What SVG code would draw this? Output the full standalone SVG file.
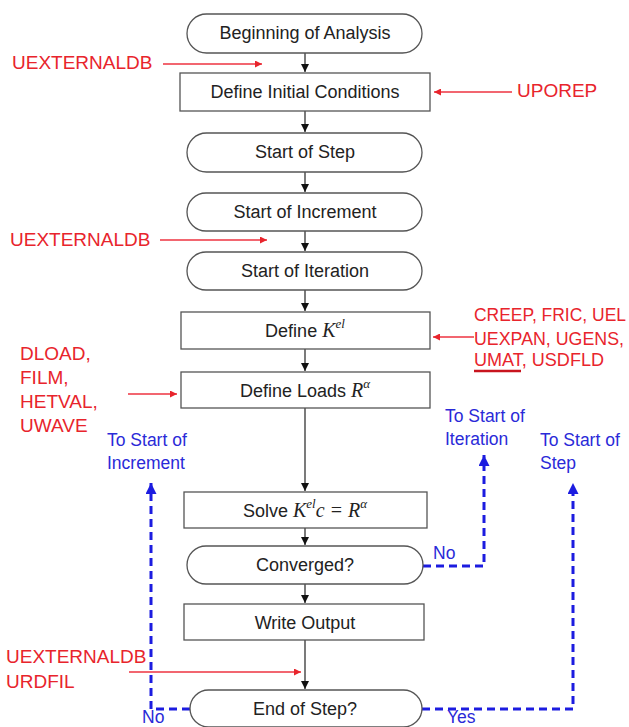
<svg xmlns="http://www.w3.org/2000/svg" width="629" height="727" viewBox="0 0 629 727">
<style>
.box{fill:#fff;stroke:#555;stroke-width:1.3}
.t{font-family:"Liberation Sans",Arial,sans-serif;font-size:18px;fill:#222;text-anchor:middle}
.m{font-family:"Liberation Serif","Times New Roman",serif;font-style:italic}
.r{font-family:"Liberation Sans",Arial,sans-serif;font-size:19px;fill:#e8242c}
.rs{font-size:17.5px}
.b{font-family:"Liberation Sans",Arial,sans-serif;font-size:17.5px;fill:#2a2ad8}
.c{stroke:#222;stroke-width:1.2;fill:none}
.rc{stroke:#ee3340;stroke-width:1.5;fill:none}
.bd{stroke:#1c1ce0;stroke-width:3;fill:none;stroke-dasharray:8 5}
</style>
<defs>
<marker id="ak" viewBox="0 0 10 10" refX="10" refY="5" markerWidth="8" markerHeight="9" markerUnits="userSpaceOnUse" orient="auto"><path d="M0,0 L10,5 L0,10 z" fill="#111"/></marker>
<marker id="ar" viewBox="0 0 10 10" refX="10" refY="5" markerWidth="11" markerHeight="7" markerUnits="userSpaceOnUse" orient="auto"><path d="M0,0 L10,5 L0,10 z" fill="#e8242c"/></marker>
<marker id="ab" viewBox="0 0 10 10" refX="10" refY="5" markerWidth="14" markerHeight="11" markerUnits="userSpaceOnUse" orient="auto"><path d="M0,0 L10,5 L0,10 z" fill="#1c1ce0"/></marker>
</defs>

<g id="connectors">
<path class="c" d="M305,53 V72" marker-end="url(#ak)"/>
<path class="c" d="M305,111 V132" marker-end="url(#ak)"/>
<path class="c" d="M305,172 V192" marker-end="url(#ak)"/>
<path class="c" d="M305,231 V251" marker-end="url(#ak)"/>
<path class="c" d="M305,290 V311" marker-end="url(#ak)"/>
<path class="c" d="M305,349 V371" marker-end="url(#ak)"/>
<path class="c" d="M305,408 V491" marker-end="url(#ak)"/>
<path class="c" d="M305,528 V545" marker-end="url(#ak)"/>
<path class="c" d="M305,584 V603" marker-end="url(#ak)"/>
<path class="c" d="M305,640 V689" marker-end="url(#ak)"/>
<path class="rc" d="M163,64 H262" marker-end="url(#ar)"/>
<path class="rc" d="M512,92 H434" marker-end="url(#ar)"/>
<path class="rc" d="M160,240 H267" marker-end="url(#ar)"/>
<path class="rc" d="M474,337 H433" marker-end="url(#ar)"/>
<path class="rc" d="M128,394 H177" marker-end="url(#ar)"/>
<path class="rc" d="M129,672 H301" marker-end="url(#ar)"/>
<path class="bd" d="M423,566 H484 V455" marker-end="url(#ab)"/>
<path class="bd" d="M190,709 H151 V483" marker-end="url(#ab)"/>
<path class="bd" d="M422,709 H573 V483" marker-end="url(#ab)"/>
</g>

<g id="n-begin"><rect class="box" x="187" y="14" width="235" height="39" rx="19.5"/><text class="t" x="305" y="39">Beginning of Analysis</text></g>
<g id="n-initial"><rect class="box" x="180" y="73" width="250" height="38"/><text class="t" x="305" y="98">Define Initial Conditions</text></g>
<g id="n-step"><rect class="box" x="187" y="133" width="235" height="39" rx="19.5"/><text class="t" x="305" y="158">Start of Step</text></g>
<g id="n-increment"><rect class="box" x="187" y="193" width="235" height="38" rx="19"/><text class="t" x="305" y="218">Start of Increment</text></g>
<g id="n-iteration"><rect class="box" x="187" y="252" width="235" height="38" rx="19"/><text class="t" x="305" y="277">Start of Iteration</text></g>
<g id="n-kel"><rect class="box" x="181" y="312" width="249" height="37"/><text class="t" x="305" y="337">Define <tspan class="m" font-size="20">K</tspan><tspan class="m" font-size="13" dy="-9">el</tspan></text></g>
<g id="n-loads"><rect class="box" x="181" y="372" width="249" height="36"/><text class="t" x="305" y="397">Define Loads <tspan class="m" font-size="20">R</tspan><tspan class="m" font-size="13" dy="-9">α</tspan></text></g>
<g id="n-solve"><rect class="box" x="184" y="492" width="243" height="36"/><text class="t" x="305" y="517">Solve <tspan class="m" font-size="20">K</tspan><tspan class="m" font-size="13" dy="-9">el</tspan><tspan class="m" font-size="20" dy="9">c</tspan><tspan class="m" font-size="20"> = R</tspan><tspan class="m" font-size="13" dy="-9">α</tspan></text></g>
<g id="n-converged"><rect class="box" x="187" y="546" width="236" height="38" rx="19"/><text class="t" x="305" y="571">Converged?</text></g>
<g id="n-output"><rect class="box" x="184" y="604" width="240" height="36"/><text class="t" x="305" y="629">Write Output</text></g>
<g id="n-endstep"><rect class="box" x="190" y="690" width="232" height="37" rx="18.5"/><text class="t" x="305" y="715">End of Step?</text></g>

<g id="labels">
<text class="r" x="12" y="69">UEXTERNALDB</text>
<text class="r" x="517" y="97">UPOREP</text>
<text class="r" x="10" y="246">UEXTERNALDB</text>
<text class="r rs" x="474" y="321" textLength="152" lengthAdjust="spacingAndGlyphs">CREEP, FRIC, UEL</text>
<text class="r rs" x="474" y="345" textLength="150" lengthAdjust="spacingAndGlyphs">UEXPAN, UGENS,</text>
<text class="r rs" x="474" y="366" textLength="130" lengthAdjust="spacingAndGlyphs">UMAT, USDFLD</text>
<path d="M474,371 H521" stroke="#c8141e" stroke-width="2.5"/>
<text class="r" x="20" y="360">DLOAD,</text>
<text class="r" x="20" y="384">FILM,</text>
<text class="r" x="20" y="408">HETVAL,</text>
<text class="r" x="20" y="432">UWAVE</text>
<text class="r" x="6" y="663">UEXTERNALDB</text>
<text class="r" x="6" y="688">URDFIL</text>
<text class="b" x="107" y="446">To Start of</text>
<text class="b" x="107" y="469">Increment</text>
<text class="b" x="445" y="422">To Start of</text>
<text class="b" x="445" y="445">Iteration</text>
<text class="b" x="540" y="446">To Start of</text>
<text class="b" x="540" y="469">Step</text>
<text class="b" x="433" y="559">No</text>
<text class="b" x="142" y="723">No</text>
<text class="b" x="447" y="723">Yes</text>
</g>
</svg>
